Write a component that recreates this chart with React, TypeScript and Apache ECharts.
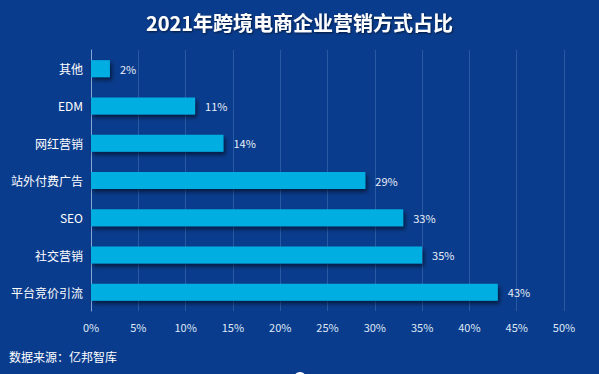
import React, { useEffect, useRef } from "react";
import * as echarts from "echarts";

const categories = ["平台竞价引流", "社交营销", "SEO", "站外付费广告", "网红营销", "EDM", "其他"];
const values = [43, 35, 33, 29, 14, 11, 2];
const titleText = "2021年跨境电商企业营销方式占比";
const sourceText = "数据来源：亿邦智库";

export default function App() {
  const ref = useRef<HTMLDivElement>(null);
  useEffect(() => {
    document.body.style.margin = "0";
    const chart = echarts.init(ref.current!, null, { renderer: "svg" });
    chart.setOption({
      animation: false,
      backgroundColor: "#0a3c8d",
      title: {
        text: titleText,
        left: "center",
        top: 7,
        textStyle: {
          color: "#ffffff",
          fontSize: 20,
          fontWeight: "bold",
          fontFamily: "Noto Sans CJK SC",
          textShadowColor: "rgba(0,0,0,0.6)",
          textShadowBlur: 2,
          textShadowOffsetX: 1,
          textShadowOffsetY: 1,
        },
      },
      grid: { left: 91, right: 35, top: 50, bottom: 63, containLabel: false },
      xAxis: {
        type: "value",
        min: 0,
        max: 50,
        interval: 5,
        axisLine: { show: false },
        axisTick: { show: false },
        axisLabel: {
          formatter: "{value}%",
          color: "#dfe8f6",
          fontSize: 11,
          margin: 10,
          fontFamily: "Noto Sans CJK SC",
        },
        splitLine: { show: true, lineStyle: { color: "rgba(120,160,220,0.3)", width: 1 } },
      },
      yAxis: {
        type: "category",
        data: categories,
        axisLine: { show: true, lineStyle: { color: "#86a6d6", width: 1 } },
        axisTick: { show: false },
        axisLabel: { color: "#ffffff", fontSize: 12, margin: 8, fontFamily: "Noto Sans CJK SC" },
        splitLine: { show: false },
      },
      series: [
        {
          type: "bar",
          data: values,
          barWidth: 17,
          itemStyle: {
            color: "#00aee1",
            shadowColor: "rgba(0,0,0,0.55)",
            shadowBlur: 4,
            shadowOffsetX: 2,
            shadowOffsetY: 3,
          },
          label: {
            show: true,
            position: "right",
            distance: 10,
            formatter: "{c}%",
            color: "#e8eef8",
            fontSize: 11,
            fontFamily: "Noto Sans CJK SC",
          },
        },
      ],
      graphic: [
        {
          type: "text",
          left: 9,
          top: 350,
          style: {
            text: sourceText,
            fill: "#ffffff",
            fontSize: 12,
            fontFamily: "Noto Sans CJK SC",
          },
        },
        {
          type: "circle",
          shape: { cx: 300, cy: 378, r: 6 },
          style: { fill: "#ffffff" },
        },
      ],
    });
    return () => chart.dispose();
  }, []);
  return (
    <div
      ref={ref}
      style={{ position: "absolute", left: 0, top: 0, width: 599, height: 374 }}
    />
  );
}
